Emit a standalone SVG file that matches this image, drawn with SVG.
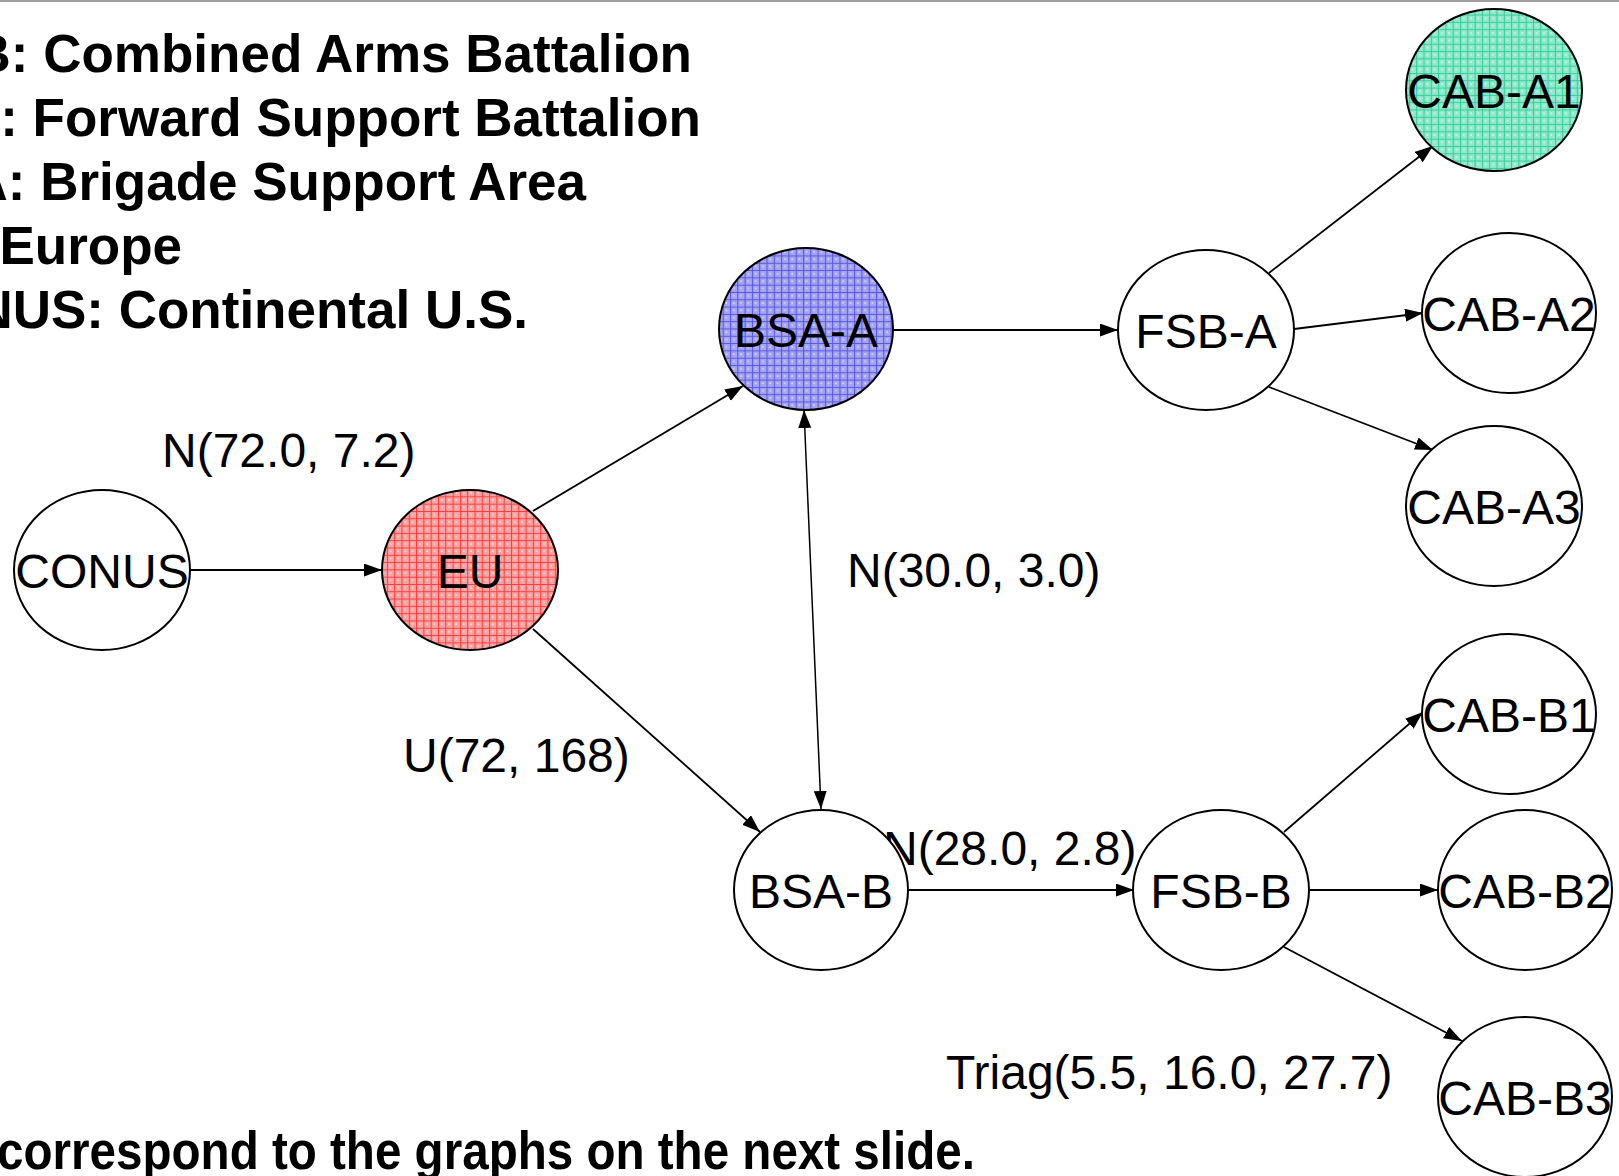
<svg xmlns="http://www.w3.org/2000/svg" width="1619" height="1176" viewBox="0 0 1619 1176">
<style>
.node{stroke:#000;stroke-width:2;fill:#fff}
.lbl{font-family:"Liberation Sans",Arial,sans-serif;font-size:48px;fill:#000}
.nl{text-anchor:middle}
.leg{font-family:"Liberation Sans",Arial,sans-serif;font-size:53px;font-weight:bold;fill:#000;text-anchor:end}
.edge{stroke:#000;stroke-width:1.8;fill:none;marker-end:url(#arr)}
</style>
<defs>
<marker id="arr" markerUnits="userSpaceOnUse" markerWidth="20" markerHeight="14" refX="18" refY="6.5" orient="auto-start-reverse">
<path d="M0,0 L18,6.5 L0,13 z" fill="#000"/>
</marker>
<pattern id="pRed" patternUnits="userSpaceOnUse" width="7.3" height="7.3">
<rect width="7.3" height="7.3" fill="#f6a3a3"/>
<path d="M0,0.5H7.3M0.5,0V7.3" stroke="#ff3a3a" stroke-width="1"/>
<rect x="3" y="3" width="1.5" height="1.5" fill="#fde0e0"/>
</pattern>
<pattern id="pBlue" patternUnits="userSpaceOnUse" width="7.3" height="7.3">
<rect width="7.3" height="7.3" fill="#a4a4f2"/>
<path d="M0,0.5H7.3M0.5,0V7.3" stroke="#5454e0" stroke-width="1"/>
<rect x="3" y="3" width="1.5" height="1.5" fill="#dedefb"/>
</pattern>
<pattern id="pGreen" patternUnits="userSpaceOnUse" width="7.3" height="7.3">
<rect width="7.3" height="7.3" fill="#8fe9cb"/>
<path d="M0,0.5H7.3M0.5,0V7.3" stroke="#33cc99" stroke-width="1"/>
<rect x="3" y="3" width="1.5" height="1.5" fill="#d8f7ec"/>
</pattern>
</defs>
<rect width="1619" height="1176" fill="#fff"/>
<line x1="0" y1="1" x2="1619" y2="1" stroke="#a0a0a0" stroke-width="2"/>

<g id="legend">
<text class="leg" x="692" y="72">CAB: Combined Arms Battalion</text>
<text class="leg" x="701" y="136">FSB: Forward Support Battalion</text>
<text class="leg" x="586" y="200">BSA: Brigade Support Area</text>
<text class="leg" x="182" y="264">EU: Europe</text>
<text class="leg" x="528" y="328">CONUS: Continental U.S.</text>
<text class="leg" x="-3" y="1169" textLength="978" lengthAdjust="spacingAndGlyphs" style="text-anchor:start">correspond to the graphs on the next slide.</text>
</g>

<g id="connectors">
<line class="edge" x1="190" y1="570" x2="382" y2="570"/>
<line class="edge" x1="533" y1="511" x2="743" y2="386"/>
<line class="edge" x1="533" y1="629" x2="760" y2="832"/>
<line class="edge" x1="804" y1="410" x2="821" y2="809" style="marker-start:url(#arr);stroke-width:1.5"/>
<line class="edge" x1="893" y1="330" x2="1118" y2="330"/>
<line class="edge" x1="1269" y1="273" x2="1433" y2="146"/>
<line class="edge" x1="1294" y1="329" x2="1423" y2="313"/>
<line class="edge" x1="1269" y1="387" x2="1433" y2="450"/>
<line class="edge" x1="909" y1="890" x2="1134" y2="890"/>
<line class="edge" x1="1284" y1="832" x2="1423" y2="712"/>
<line class="edge" x1="1309" y1="890" x2="1438" y2="890"/>
<line class="edge" x1="1284" y1="947" x2="1462" y2="1041"/>
</g>

<g id="edge-labels">
<text class="lbl" x="162" y="467">N(72.0, 7.2)</text>
<text class="lbl" x="847" y="587">N(30.0, 3.0)</text>
<text class="lbl" x="403" y="772">U(72, 168)</text>
<text class="lbl" x="883" y="865">N(28.0, 2.8)</text>
<text class="lbl" x="946" y="1089">Triag(5.5, 16.0, 27.7)</text>
</g>

<g id="CONUS"><ellipse class="node" cx="102" cy="570" rx="88" ry="80"/><text class="lbl nl" x="102" y="588">CONUS</text></g>
<g id="EU"><ellipse class="node" cx="470" cy="570" rx="88" ry="80" style="fill:url(#pRed)"/><text class="lbl nl" x="470" y="588">EU</text></g>
<g id="BSA-A"><ellipse class="node" cx="806" cy="329" rx="87" ry="81" style="fill:url(#pBlue)"/><text class="lbl nl" x="806" y="347">BSA-A</text></g>
<g id="FSB-A"><ellipse class="node" cx="1206" cy="330" rx="88" ry="80"/><text class="lbl nl" x="1206" y="348">FSB-A</text></g>
<g id="CAB-A1"><ellipse class="node" cx="1494" cy="90" rx="88" ry="81" style="fill:url(#pGreen)"/><text class="lbl nl" x="1494" y="108">CAB-A1</text></g>
<g id="CAB-A2"><ellipse class="node" cx="1509" cy="313" rx="87" ry="80"/><text class="lbl nl" x="1509" y="331">CAB-A2</text></g>
<g id="CAB-A3"><ellipse class="node" cx="1494" cy="506" rx="88" ry="80"/><text class="lbl nl" x="1494" y="524">CAB-A3</text></g>
<g id="BSA-B"><ellipse class="node" cx="821" cy="890" rx="87" ry="80"/><text class="lbl nl" x="821" y="908">BSA-B</text></g>
<g id="FSB-B"><ellipse class="node" cx="1221" cy="890" rx="88" ry="80"/><text class="lbl nl" x="1221" y="908">FSB-B</text></g>
<g id="CAB-B1"><ellipse class="node" cx="1509" cy="714" rx="87" ry="80"/><text class="lbl nl" x="1509" y="732">CAB-B1</text></g>
<g id="CAB-B2"><ellipse class="node" cx="1525" cy="890" rx="87" ry="80"/><text class="lbl nl" x="1525" y="908">CAB-B2</text></g>
<g id="CAB-B3"><ellipse class="node" cx="1525" cy="1097" rx="87" ry="80"/><text class="lbl nl" x="1525" y="1115">CAB-B3</text></g>
</svg>
